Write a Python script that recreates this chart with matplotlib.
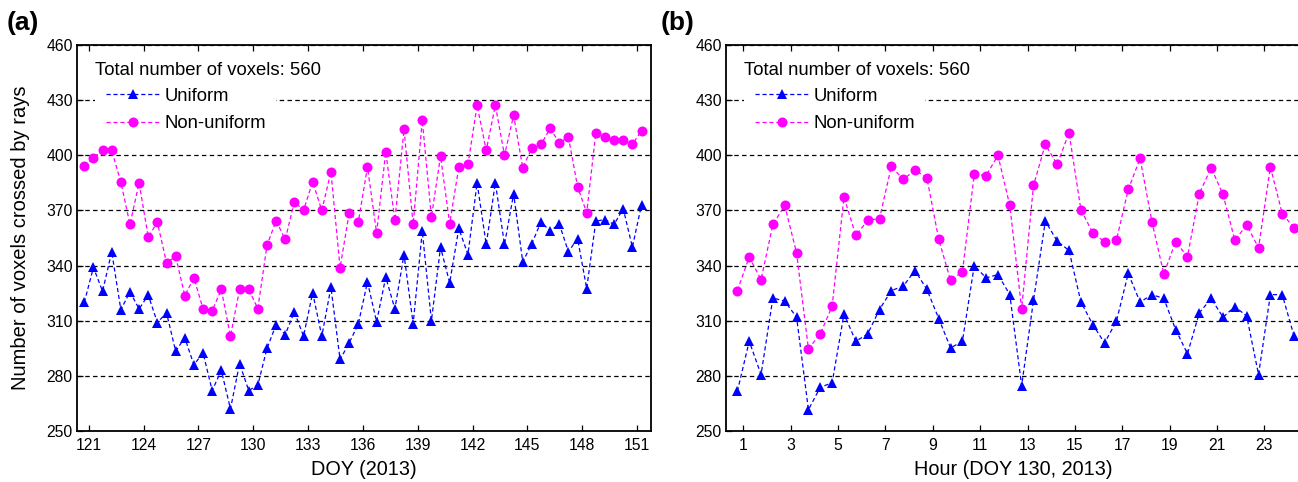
import numpy as np
import matplotlib
matplotlib.use("Agg")
import matplotlib.pyplot as plt
from matplotlib.ticker import FixedLocator

plt.rcParams["font.family"] = ["Liberation Sans", "DejaVu Sans"]
plt.rcParams["lines.scale_dashes"] = False

# ---- (a) twice-daily counts, DOY 121-151 -------------------------------
doy_start, doy_step = 120.75, 0.5
doy_uniform = [320, 339, 326, 347.5, 316, 325.7, 316.4, 324, 309, 314.3,
               293.4, 300.7, 286, 292.5, 272, 283, 262, 286.7, 272, 275,
               295, 307.8, 302.5, 314.8, 301.6, 325.2, 301.6, 328.2, 288.9, 297.9,
               308.3, 331.1, 309.4, 333.7, 316.4, 346, 308.3, 358.7, 310, 350,
               330.6, 360.2, 346, 385, 351.5, 385, 351.5, 379, 342, 352,
               363.8, 358.7, 362.7, 347.5, 354.7, 327.5, 364.2, 365, 362.4, 371,
               350, 373]
doy_nonuniform = [394, 398.7, 402.7, 402.7, 385.4, 362.4, 385, 355.5, 363.6, 341.5,
                  345, 323.7, 333.3, 316.4, 315.5, 327, 301.6, 327, 327, 316.6,
                  351, 364.4, 354.2, 374.7, 370, 385.6, 370, 391, 338.8, 368.7,
                  363.8, 393.6, 357.8, 401.9, 364.6, 414.1, 362.4, 419, 366.4, 399.6,
                  362.7, 393.6, 395, 427.2, 402.7, 427.2, 400, 421.7, 393.2, 404.1,
                  405.9, 414.6, 406.8, 409.9, 383, 368.7, 412.3, 409.9, 408.1, 408.1,
                  405.9, 413.4]
doy_ticks = [121, 124, 127, 130, 133, 136, 139, 142, 145, 148, 151]

# ---- (b) half-hourly counts, DOY 130 -----------------------------------
hour_start, hour_step = 0.75, 0.5
hour_uniform = [271.6, 298.8, 280.7, 322.4, 320.6, 311.9, 261.6, 273.8, 276.2, 313.7,
                298.8, 302.8, 316.1, 326.4, 328.8, 337.3, 327, 311.2, 295.2, 298.8,
                340, 333.3, 335.1, 324.2, 274.7, 321, 364.2, 353.3, 348.2, 320.3,
                307.9, 297.9, 309.7, 335.7, 320.1, 324.2, 322.1, 305.2, 292, 314.3,
                322.1, 311.9, 317.7, 312.5, 280.7, 324.2, 324.2, 301.6]
hour_nonuniform = [326.4, 344.6, 332.4, 362.4, 372.7, 346.8, 294.7, 302.8, 317.9, 377.2,
                   356.4, 364.6, 365.6, 394, 386.9, 391.9, 387.8, 354.2, 331.9, 336.6,
                   389.6, 389, 399.9, 372.7, 316.4, 383.6, 405.9, 395, 412.3, 370.5,
                   357.8, 352.9, 353.8, 381.4, 398.3, 363.8, 335.5, 352.9, 344.8, 379.2,
                   393.2, 378.7, 353.8, 362, 349.7, 393.6, 368.2, 360.5]
hour_ticks = [1, 3, 5, 7, 9, 11, 13, 15, 17, 19, 21, 23]

y_ticks = [250, 280, 310, 340, 370, 400, 430, 460]
series_labels = ["Uniform", "Non-uniform"]
total_text = "Total number of voxels: 560"

W, H = 1298, 482
fig = plt.figure(figsize=(W / 100, H / 100), dpi=100)

ax_a = fig.add_axes([77 / W, 51 / H, 574 / W, 386 / H])
ax_b = fig.add_axes([726 / W, 51 / H, 574 / W, 386 / H])

dash = (0, (3.0, 2.0))
grid_dash = (0, (3.2, 2.4))


def draw_panel(ax, x0, dx, uni, non, xticks, xlim, xlabel, tag, tag_x):
    x_u = x0 + dx * np.arange(len(uni))
    x_n = x0 + dx * np.arange(len(non))
    ax.plot(x_u, uni, color="#0000ff", linestyle=dash, lw=0.9,
            marker="^", markersize=7.6, markeredgewidth=0,
            label=series_labels[0], zorder=3)
    ax.plot(x_n, non, color="#ff00ff", linestyle=dash, lw=0.9,
            marker="o", markersize=7.2, markeredgewidth=0,
            label=series_labels[1], zorder=3)
    ax.set_xlim(*xlim)
    ax.set_ylim(250, 460)
    ax.yaxis.set_major_locator(FixedLocator(y_ticks))
    ax.xaxis.set_major_locator(FixedLocator(xticks))
    ax.set_xticklabels([str(t) for t in xticks])
    ax.yaxis.grid(True, color="black", linestyle=grid_dash, lw=0.9, zorder=1)
    ax.set_axisbelow(True)
    ax.tick_params(axis="both", direction="in", length=4, width=0.9,
                   labelsize=11.3, top=True, right=False, pad=5,
                   colors="black")
    ax.tick_params(axis="y", pad=3)
    for s in ax.spines.values():
        s.set_linewidth(1.3)
    ax.set_xlabel(xlabel, fontsize=14.3, labelpad=5)
    ax.text(0.031, 0.935, total_text, transform=ax.transAxes,
            fontsize=13.3, va="center", ha="left", zorder=5)
    leg = ax.legend(loc="upper left", bbox_to_anchor=(0.032, 0.916),
                    borderaxespad=0, fontsize=13.3, frameon=True,
                    facecolor="white", edgecolor="none", framealpha=1,
                    fancybox=False, handlelength=3.0, handletextpad=0.2,
                    labelspacing=0.58, borderpad=0.55)
    leg.set_zorder(4)
    fig.text(tag_x, 0.952, tag, fontsize=19, fontweight="bold",
             family=["Liberation Sans Narrow", "Liberation Sans"],
             ha="left", va="center")


draw_panel(ax_a, doy_start, doy_step, doy_uniform, doy_nonuniform,
           doy_ticks, (120.35, 151.77), "DOY (2013)", "(a)", 7 / W)
draw_panel(ax_b, hour_start, hour_step, hour_uniform, hour_nonuniform,
           hour_ticks, (0.27, 24.5), "Hour (DOY 130, 2013)", "(b)", 661 / W)

ax_a.set_ylabel("Number of voxels crossed by rays", fontsize=14.5, labelpad=12)

fig.savefig("out.png", dpi=100)
